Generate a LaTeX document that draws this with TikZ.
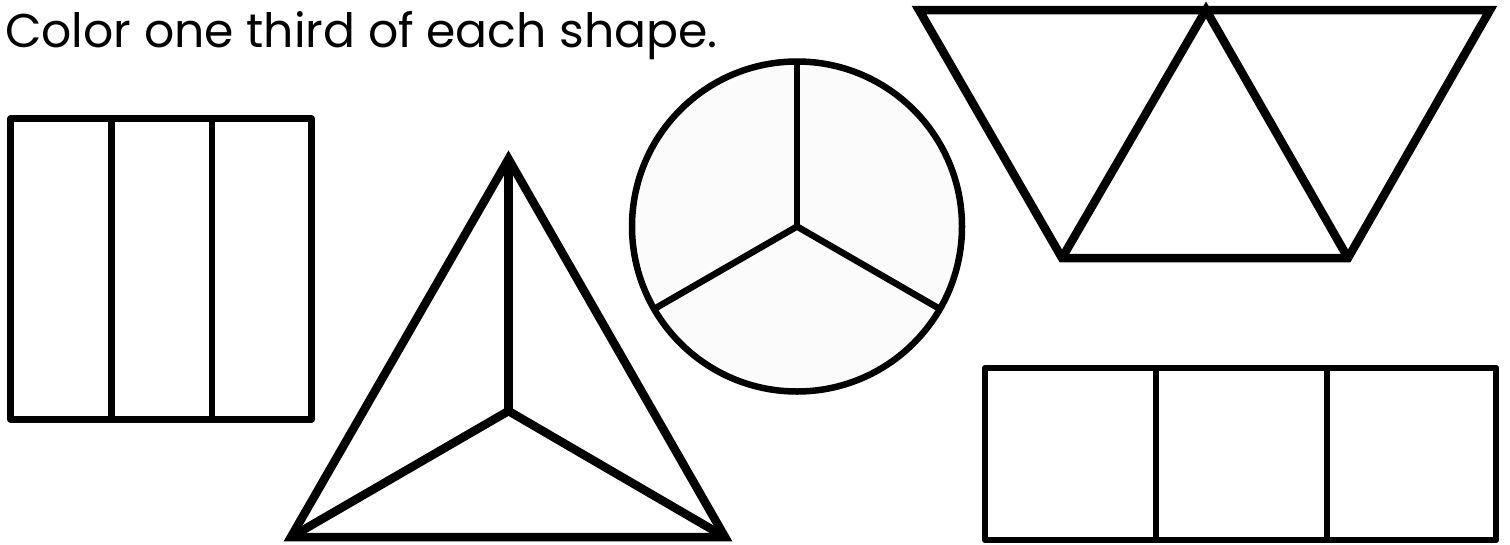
\documentclass[tikz,border=0pt]{standalone}
\usepackage{fontspec}
\setmainfont{Poppins}
\begin{document}
\begin{tikzpicture}[x=1pt,y=-1pt,
  rectline/.style={draw=black,line width=6.5pt,line join=round},
  triline/.style={draw=black,line width=8.5pt,line join=miter},
  circline/.style={draw=black,line width=6.5pt,fill=black!1.5},
  spoke/.style={draw=black,line width=6.5pt}]
\useasboundingbox[fill=white] (0,0) rectangle (1510,544);
% title
\node[anchor=base west,inner sep=0pt,font=\fontsize{47.3}{52}\selectfont] (title) at (5,47) {Color one third of each shape.};
% left square in thirds
\coordinate (sqA) at (10.7,118.5);
\coordinate (sqB) at (311.7,419.3);
\draw[rectline] (sqA) rectangle (sqB);
\draw[rectline] (111.7,118.5) -- (111.7,419.3);
\draw[rectline] (212,118.5) -- (212,419.3);
% triangle
\coordinate (tA) at (508.5,159);
\coordinate (tB) at (291,537);
\coordinate (tC) at (725,537);
\coordinate (tO) at (508.5,411);
\draw[triline] (tA) -- (tB) -- (tC) -- cycle;
\draw[triline] (tO) -- (tA);
\draw[triline] (tO) -- (tB);
\draw[triline] (tO) -- (tC);
% circle
\coordinate (cO) at (797,226.5);
\draw[circline] (cO) circle[radius=165];
\draw[spoke] (cO) -- ++(90:-165);
\draw[spoke] (cO) -- ++(-30:-165);
\draw[spoke] (cO) -- ++(210:-165);
% trapezoid
\coordinate (zTL) at (919,10);
\coordinate (zTM) at (1206,10);
\coordinate (zTR) at (1490,10);
\coordinate (zBL) at (1062,258);
\coordinate (zBR) at (1348,258);
\draw[triline] (zTL) -- (zTR) -- (zBR) -- (zBL) -- cycle;
\draw[triline] (zBL) -- (zTM) -- (zBR);
% bottom right rectangle in thirds
\coordinate (rA) at (985,368);
\coordinate (rB) at (1496,540);
\draw[rectline] (rA) rectangle (rB);
\draw[rectline] (1156,368) -- (1156,540);
\draw[rectline] (1327,368) -- (1327,540);
\end{tikzpicture}
\end{document}
